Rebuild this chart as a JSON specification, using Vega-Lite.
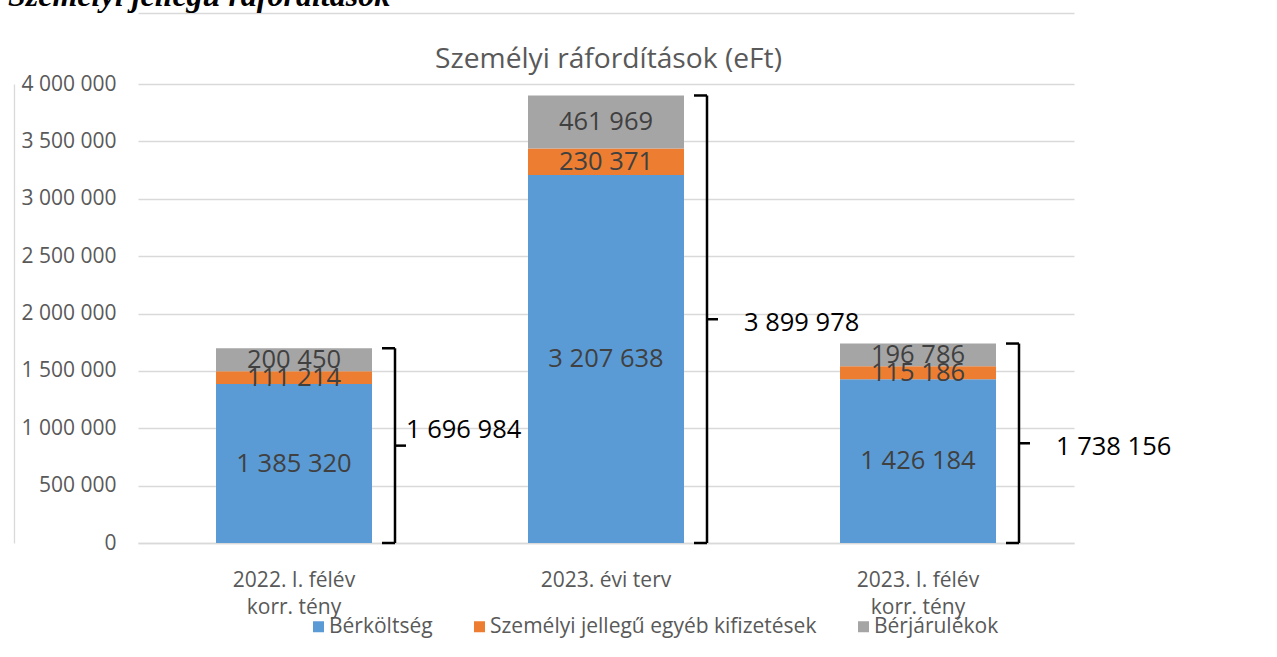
{
  "$schema": "https://vega.github.io/schema/vega-lite/v6.json",
  "width": 936,
  "height": 459,
  "autosize": {"type": "none"},
  "padding": {"left": 138, "top": 84, "right": 203, "bottom": 114},
  "background": "white",
  "config": {
    "locale": {"number": {"decimal": ",", "thousands": " ", "grouping": [3], "currency": ["", ""]}},
    "view": {"stroke": null},
    "font": "Open Sans"
  },
  "title": {
    "text": "Személyi jellegű ráfordítások",
    "font": "Liberation Serif",
    "fontSize": 32,
    "fontStyle": "italic",
    "fontWeight": "bold",
    "color": "#000000",
    "anchor": "start",
    "frame": "bounds",
    "offset": 0,
    "dx": -6
  },
  "datasets": {
    "elemek": [
      {"kat": "2022. I. félév korr. tény", "tetel": "Bérköltség", "sorrend": 1, "ertek": 1385320},
      {"kat": "2022. I. félév korr. tény", "tetel": "Személyi jellegű egyéb kifizetések", "sorrend": 2, "ertek": 111214},
      {"kat": "2022. I. félév korr. tény", "tetel": "Bérjárulékok", "sorrend": 3, "ertek": 200450},
      {"kat": "2023. évi terv", "tetel": "Bérköltség", "sorrend": 1, "ertek": 3207638},
      {"kat": "2023. évi terv", "tetel": "Személyi jellegű egyéb kifizetések", "sorrend": 2, "ertek": 230371},
      {"kat": "2023. évi terv", "tetel": "Bérjárulékok", "sorrend": 3, "ertek": 461969},
      {"kat": "2023. I. félév korr. tény", "tetel": "Bérköltség", "sorrend": 1, "ertek": 1426184},
      {"kat": "2023. I. félév korr. tény", "tetel": "Személyi jellegű egyéb kifizetések", "sorrend": 2, "ertek": 115186},
      {"kat": "2023. I. félév korr. tény", "tetel": "Bérjárulékok", "sorrend": 3, "ertek": 196786}
    ],
    "osszesen": [
      {"kat": "2022. I. félév korr. tény", "osszeg": 1696984},
      {"kat": "2023. évi terv", "osszeg": 3899978},
      {"kat": "2023. I. félév korr. tény", "osszeg": 1738156}
    ]
  },
  "layer": [
    {
      "encoding": {
        "x": {
          "field": "kat",
          "type": "nominal",
          "sort": ["2022. I. félév korr. tény", "2023. évi terv", "2023. I. félév korr. tény"],
          "scale": {"paddingInner": 0.5, "paddingOuter": 0.25},
          "axis": {
            "title": null,
            "labelAngle": 0,
            "labelFont": "Open Sans",
            "labelFontSize": 21,
            "labelColor": "#595959",
            "labelPadding": 26,
            "labelLineHeight": 27,
            "ticks": false,
            "domainColor": "#d9d9d9",
            "domainWidth": 1.3,
            "labelExpr": "indexof(datum.label, ' korr') > 0 ? [substring(datum.label, 0, indexof(datum.label, ' korr')), 'korr. tény'] : datum.label"
          }
        }
      },
      "layer": [
        {
          "data": {"name": "elemek"},
          "mark": {"type": "bar"},
          "encoding": {
            "y": {
              "field": "ertek",
              "type": "quantitative",
              "stack": "zero",
              "scale": {"domain": [0, 4000000], "nice": false},
              "axis": {
                "values": [0, 500000, 1000000, 1500000, 2000000, 2500000, 3000000, 3500000, 4000000],
                "format": ",d",
                "labelFont": "Open Sans",
                "labelFontSize": 21,
                "labelColor": "#595959",
                "labelPadding": 22,
                "ticks": false,
                "domain": false,
                "grid": true,
                "gridColor": "#d9d9d9",
                "gridWidth": 1.3,
                "title": "Személyi ráfordítások (eFt)",
                "titleFont": "Open Sans",
                "titleFontWeight": "normal",
                "titleFontSize": 28.2,
                "titleColor": "#595959",
                "titleAngle": 0,
                "titleAlign": "center",
                "titleBaseline": "alphabetic",
                "titleX": 470,
                "titleY": -17
              }
            },
            "color": {
              "field": "tetel",
              "type": "nominal",
              "scale": {
                "domain": ["Bérköltség", "Személyi jellegű egyéb kifizetések", "Bérjárulékok"],
                "range": ["#5b9bd5", "#ed7d31", "#a5a5a5"]
              },
              "legend": {
                "title": null,
                "orient": "none",
                "direction": "horizontal",
                "legendX": 170,
                "legendY": 532,
                "symbolType": "square",
                "symbolSize": 121,
                "symbolStrokeWidth": 0,
                "labelFont": "Open Sans",
                "labelFontSize": 21,
                "labelColor": "#595959",
                "labelOffset": 0,
                "labelLimit": 600,
                "columnPadding": 36
              }
            },
            "order": {"field": "sorrend", "type": "quantitative", "sort": "ascending"}
          }
        },
        {
          "data": {"name": "elemek"},
          "mark": {"type": "text", "font": "Open Sans", "fontSize": 25.5, "color": "#404040"},
          "encoding": {
            "y": {"field": "ertek", "type": "quantitative", "stack": "zero", "bandPosition": 0.5},
            "detail": {"field": "tetel", "type": "nominal"},
            "order": {"field": "sorrend", "type": "quantitative", "sort": "ascending"},
            "text": {"field": "ertek", "type": "quantitative", "format": ",d"}
          }
        },
        {
          "data": {"name": "osszesen"},
          "mark": {"type": "bar", "color": "#000000", "width": 2.5, "xOffset": 101},
          "encoding": {
            "y": {"field": "osszeg", "type": "quantitative"}
          }
        },
        {
          "data": {"name": "osszesen"},
          "mark": {"type": "tick", "color": "#000000", "thickness": 2.5, "size": 13, "xOffset": 94.5, "opacity": 1},
          "encoding": {
            "y": {"field": "osszeg", "type": "quantitative"}
          }
        },
        {
          "data": {"name": "osszesen"},
          "mark": {"type": "tick", "color": "#000000", "thickness": 2.5, "size": 13, "xOffset": 94.5, "opacity": 1},
          "encoding": {
            "y": {"datum": 0, "type": "quantitative"}
          }
        }
      ]
    },
    {
      "data": {"name": "osszesen"},
      "encoding": {
        "x": {
          "field": "kat",
          "type": "nominal",
          "sort": ["2022. I. félév korr. tény", "2023. évi terv", "2023. I. félév korr. tény"],
          "axis": {
            "orient": "top",
            "offset": 71,
            "title": null,
            "labels": false,
            "ticks": false,
            "grid": false,
            "domain": true,
            "domainColor": "#d9d9d9",
            "domainWidth": 1.3
          }
        },
        "y": {
          "field": "osszeg",
          "type": "quantitative",
          "scale": {"domain": [0, 8000000], "nice": false},
          "axis": {
            "orient": "left",
            "offset": 124,
            "title": null,
            "labels": false,
            "ticks": false,
            "grid": false,
            "domain": true,
            "domainColor": "#d9d9d9",
            "domainWidth": 1.3
          }
        }
      },
      "layer": [
        {
          "mark": {"type": "tick", "color": "#000000", "thickness": 2.5, "size": 11, "xOffset": 106.5, "opacity": 1}
        },
        {
          "transform": [{"filter": "datum.kat == '2022. I. félév korr. tény'"}],
          "mark": {"type": "text", "font": "Open Sans", "fontSize": 25.5, "color": "#000000", "align": "left", "dx": 112, "dy": -16},
          "encoding": {"text": {"field": "osszeg", "type": "quantitative", "format": ",d"}}
        },
        {
          "transform": [{"filter": "datum.kat != '2022. I. félév korr. tény'"}],
          "mark": {"type": "text", "font": "Open Sans", "fontSize": 25.5, "color": "#000000", "align": "left", "dx": 138, "dy": 4},
          "encoding": {"text": {"field": "osszeg", "type": "quantitative", "format": ",d"}}
        }
      ]
    }
  ],
  "resolve": {"scale": {"y": "independent"}, "axis": {"y": "independent", "x": "independent"}}
}
